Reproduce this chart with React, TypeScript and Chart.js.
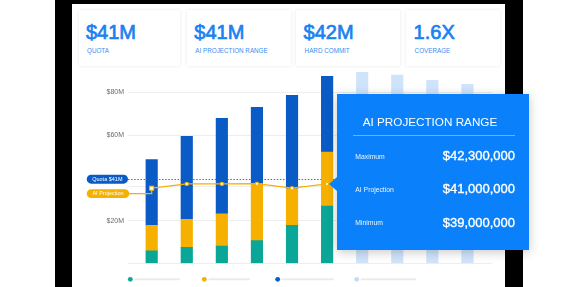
import React, { useEffect, useRef } from 'react';
import { Chart, registerables } from 'chart.js';

Chart.register(...registerables);

// ---------- data ----------
const periods = [0, 1, 2, 3, 4, 5];
const forecastPeriods = [6, 7, 8, 9];
const committedValues = [5.9, 7.6, 8.2, 10.7, 17.8, 26.9];
const bestCaseValues = [12.0, 13.1, 15.0, 26.7, 17.2, 25.2];
const pipelineValues = [30.7, 38.8, 44.7, 35.6, 43.6, 35.4];
const forecastValues = [89.4, 88.1, 85.6, 83.8];
const projectionValues = [35.2, 37.2, 37.2, 37.3, 35.2, 37.2];
const quotaLineValue = 39.4;
const gridValues = [0, 20, 35.8, 60, 80];
const tickLabels = ['', '$20M', '', '$60M', '$80M'];
const kpiValues = ['$41M', '$41M', '$42M', '1.6X'];
const kpiLabels = ['QUOTA', 'AI PROJECTION RANGE', 'HARD COMMIT', 'COVERAGE'];
const tooltipTitle = 'AI PROJECTION RANGE';
const tooltipRowLabels = ['Maximum', 'AI Projection', 'Minimum'];
const tooltipRowValues = ['$42,300,000', '$41,000,000', '$39,000,000'];
const quotaPillLabel = 'Quota $41M';
const projectionPillLabel = 'AI Projection';

// ---------- styles ----------
const FONT = '"Liberation Sans", Arial, Helvetica, sans-serif';
const TEAL = '#0aa698';
const YELLOW = '#f6b100';
const BLUE = '#0a5bc6';
const LIGHT = '#cfe3fb';
const TIP_BLUE = '#0a80fa';

const cardLefts = [78.7, 187, 296.3, 406.3];
const cardWidths = [101.6, 103.7, 104, 93.7];
const legendDots = [130.3, 204.3, 277.7, 356.7];
const legendEnds = [179, 249, 333, 415];
const legendColors = [TEAL, YELLOW, BLUE, '#c4dcf8'];

function roundRect(ctx: CanvasRenderingContext2D, x: number, y: number, w: number, h: number, r: number) {
  ctx.beginPath();
  ctx.moveTo(x + r, y);
  ctx.lineTo(x + w - r, y);
  ctx.arc(x + w - r, y + r, r, -Math.PI / 2, Math.PI / 2);
  ctx.lineTo(x + r, y + h);
  ctx.arc(x + r, y + r, r, Math.PI / 2, (3 * Math.PI) / 2);
  ctx.closePath();
}

const decorPlugin = {
  id: 'decor',
  beforeDatasetsDraw(chart: any) {
    const { ctx, chartArea, scales } = chart;
    const y = scales.y.getPixelForValue(quotaLineValue);
    ctx.save();
    ctx.strokeStyle = '#3b6fd4';
    ctx.lineWidth = 1;
    ctx.setLineDash([1.5, 1.6]);
    ctx.beginPath();
    ctx.moveTo(chartArea.left, Math.round(y) + 0.5);
    ctx.lineTo(335, Math.round(y) + 0.5);
    ctx.stroke();
    ctx.restore();
  },
  afterDatasetsDraw(chart: any) {
    const { ctx, chartArea, scales } = chart;
    const qy = scales.y.getPixelForValue(quotaLineValue);
    const py = qy + 14.3;
    const x0 = scales.x.getPixelForValue(periods[0]);
    const y0 = scales.y.getPixelForValue(projectionValues[0]);
    ctx.save();
    ctx.strokeStyle = YELLOW;
    ctx.lineWidth = 1.3;
    ctx.beginPath();
    ctx.moveTo(chartArea.left, py);
    ctx.lineTo(x0, py);
    ctx.lineTo(x0, y0);
    ctx.stroke();
    ctx.fillStyle = '#ffffff';
    ctx.strokeStyle = YELLOW;
    ctx.lineWidth = 1;
    ctx.fillRect(x0 - 2, y0 - 2, 4, 4);
    ctx.strokeRect(x0 - 2, y0 - 2, 4, 4);
    const pills = [
      { label: quotaPillLabel, color: BLUE, y: qy, w: 41.3, right: chartArea.left },
      { label: projectionPillLabel, color: YELLOW, y: py, w: 42.6, right: chartArea.left + 1.3 },
    ];
    pills.forEach((p) => {
      const h = 8.8;
      const x = p.right - p.w;
      ctx.fillStyle = p.color;
      roundRect(ctx, x, p.y - h / 2, p.w, h, h / 2);
      ctx.fill();
      ctx.fillStyle = '#ffffff';
      ctx.font = `5.5px ${FONT}`;
      ctx.textAlign = 'center';
      ctx.textBaseline = 'middle';
      ctx.fillText(p.label, x + p.w / 2, p.y + 0.3);
    });
    ctx.restore();
  },
  afterDraw(chart: any) {
    const { ctx } = chart;
    const ly = 279.3;
    ctx.save();
    legendDots.forEach((dx, i) => {
      ctx.strokeStyle = '#ebebeb';
      ctx.lineWidth = 2;
      ctx.lineCap = 'round';
      ctx.beginPath();
      ctx.moveTo(dx + 5, ly);
      ctx.lineTo(legendEnds[i], ly);
      ctx.stroke();
      ctx.fillStyle = legendColors[i];
      ctx.beginPath();
      ctx.arc(dx, ly, 2.4, 0, Math.PI * 2);
      ctx.fill();
    });
    ctx.restore();
  },
};

function ChartCanvas() {
  const ref = useRef<HTMLCanvasElement | null>(null);
  useEffect(() => {
    if (!ref.current) return;
    const barCommon = { stack: 'bars', barThickness: 11.5, borderWidth: 0 };
    const chart = new Chart(ref.current, {
      type: 'bar',
      data: {
        datasets: [
          { ...barCommon, label: 'Committed', data: periods.map((p, i) => ({ x: p, y: committedValues[i] })), backgroundColor: TEAL },
          { ...barCommon, label: 'Best case', data: periods.map((p, i) => ({ x: p, y: bestCaseValues[i] })), backgroundColor: YELLOW },
          { ...barCommon, label: 'Pipeline', data: periods.map((p, i) => ({ x: p, y: pipelineValues[i] })), backgroundColor: BLUE },
          { ...barCommon, label: 'Forecast', data: forecastPeriods.map((p, i) => ({ x: p, y: forecastValues[i] })), backgroundColor: LIGHT },
          {
            type: 'line',
            label: 'AI Projection',
            stack: 'proj',
            order: -1,
            data: periods.map((p, i) => ({ x: p, y: projectionValues[i] })),
            borderColor: YELLOW,
            borderWidth: 1.3,
            tension: 0,
            pointStyle: 'rect',
            pointRadius: 2,
            pointBackgroundColor: '#ffffff',
            pointBorderColor: YELLOW,
            pointBorderWidth: 1,
          } as any,
        ],
      },
      options: {
        animation: false,
        responsive: false,
        maintainAspectRatio: false,
        devicePixelRatio: 1,
        layout: { padding: { left: 88, right: 86, top: 71, bottom: 23.5 } },
        plugins: { legend: { display: false }, tooltip: { enabled: false } },
        scales: {
          x: { type: 'linear', min: -0.675, max: 9.7, display: false, stacked: true, offset: false },
          y: {
            min: 0,
            max: 90,
            stacked: true,
            afterBuildTicks: (s: any) => {
              s.ticks = gridValues.map((v) => ({ value: v }));
            },
            afterFit: (s: any) => {
              s.width = 40;
            },
            grid: { color: '#eeeeee', drawTicks: false, lineWidth: 1 },
            border: { display: false },
            ticks: {
              padding: 4,
              autoSkip: false,
              color: '#6b6b6b',
              font: { size: 7, family: FONT },
              callback: (_v: any, i: number) => tickLabels[i],
            },
          },
        },
      } as any,
      plugins: [decorPlugin],
    });
    return () => chart.destroy();
  }, []);
  return (
    <canvas
      ref={ref}
      width={578}
      height={287}
      style={{ position: 'absolute', left: 0, top: 0, width: 578, height: 287 }}
    />
  );
}

export default function App() {
  useEffect(() => {
    document.body.style.margin = '0';
  }, []);
  return (
    <div style={{ position: 'absolute', left: 0, top: 0, width: 578, height: 287, overflow: 'hidden', background: '#ffffff', fontFamily: FONT }}>
      <div style={{ position: 'absolute', left: 55, top: 0, width: 468, height: 287, background: '#000000' }} />
      <div style={{ position: 'absolute', left: 72, top: 4, width: 433, height: 290, background: '#ffffff' }} />
      {kpiValues.map((v, i) => (
        <div
          key={i}
          style={{
            position: 'absolute',
            left: cardLefts[i],
            top: 10,
            width: cardWidths[i],
            height: 56,
            background: '#ffffff',
            boxShadow: '0 0 3px rgba(0,0,0,0.10)',
            boxSizing: 'border-box',
          }}
        >
          <div style={{ position: 'absolute', left: 7.3, top: 12.4, fontSize: 20, lineHeight: '20px', fontWeight: 400, WebkitTextStroke: '0.7px #1a82f0', color: '#1a82f0', whiteSpace: 'nowrap' }}>{v}</div>
          <div style={{ position: 'absolute', left: 8.3, top: 37.3, fontSize: 6.3, lineHeight: '8px', color: '#3b8ef0', whiteSpace: 'nowrap' }}>{kpiLabels[i]}</div>
        </div>
      ))}
      <ChartCanvas />
      <div
        style={{
          position: 'absolute',
          left: 337,
          top: 94,
          width: 192,
          height: 156,
          background: TIP_BLUE,
          boxShadow: '0 2px 10px rgba(0,0,0,0.22)',
          color: '#ffffff',
        }}
      >
        <div style={{ position: 'absolute', left: -8, top: 82.5, width: 0, height: 0, borderTop: '7.5px solid transparent', borderBottom: '7.5px solid transparent', borderRight: `8px solid ${TIP_BLUE}` }} />
        <div style={{ position: 'absolute', left: 0, top: 20.6, width: 186, textAlign: 'center', fontSize: 11.7, lineHeight: '14px', whiteSpace: 'nowrap' }}>{tooltipTitle}</div>
        <div style={{ position: 'absolute', left: 16, top: 41, width: 162, height: 1, background: 'rgba(255,255,255,0.4)' }} />
        {tooltipRowLabels.map((l, i) => (
          <React.Fragment key={i}>
            <div style={{ position: 'absolute', left: 18.3, top: [63.3, 96.3, 129][i] - 5, fontSize: 6.8, lineHeight: '10px', color: 'rgba(255,255,255,0.92)', whiteSpace: 'nowrap' }}>{l}</div>
            <div style={{ position: 'absolute', right: 14, top: [61.7, 95, 128.5][i] - 8, fontSize: 13, lineHeight: '16px', fontWeight: 400, WebkitTextStroke: '0.35px #ffffff', whiteSpace: 'nowrap' }}>{tooltipRowValues[i]}</div>
          </React.Fragment>
        ))}
      </div>
    </div>
  );
}
